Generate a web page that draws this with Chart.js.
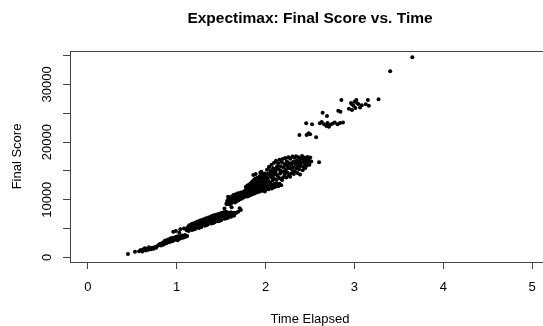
<!DOCTYPE html>
<html>
<head>
<meta charset="utf-8">
<script src="https://cdn.jsdelivr.net/npm/chart.js@4.4.1/dist/chart.umd.min.js"></script>
<style>
	html, body { margin: 0; padding: 0; background: #fff; overflow: hidden; }
	#wrap { width: 560px; height: 326px; }
</style>
</head>
<body>
<div id="wrap"><canvas id="ChartExpectimax" width="560" height="326"></canvas></div>
<script>
// --------------
// DATA
// --------------
const chartTitle = "Expectimax: Final Score vs. Time";
const xTitle = "Time Elapsed";
const yTitle = "Final Score";

const xTicks = [0, 1, 2, 3, 4, 5];
const yTicks = [0, 5000, 10000, 15000, 20000, 25000, 30000, 35000];
const yTickLabels = [0, 10000, 20000, 30000];

// [time elapsed, final score]
const gamesLow = [
	[0.452, 580], [0.531, 970], [0.577, 1080], [0.596, 1260], [0.614, 1030], [0.628, 1390], [0.641, 1590],
	[0.652, 1190], [0.663, 1480], [0.679, 1320], [0.688, 1740], [0.701, 1570], [0.712, 1410], [0.727, 1690],
	[0.741, 1520], [0.757, 1810], [0.768, 1660],
];

const games256 = [
	[0.781, 1930], [0.796, 2140], [0.811, 2320], [0.823, 2050], [0.837, 2480], [0.848, 2210], [0.859, 2760],
	[0.866, 2360], [0.874, 2620], [0.883, 2450], [0.891, 2870], [0.899, 2570], [0.907, 2760], [0.915, 3020],
	[0.922, 2660], [0.929, 3280], [0.936, 2880], [0.944, 3110], [0.951, 2790], [0.958, 3230], [0.965, 2970],
	[0.973, 3390], [0.981, 3060], [0.988, 3520], [0.995, 3170], [1.003, 3430], [1.011, 2990], [1.018, 3310],
	[1.026, 3590], [1.034, 3240], [1.041, 3480], [1.049, 3660], [1.057, 3370], [1.066, 3570], [1.078, 3460],
	[1.089, 3690], [1.103, 3560], [1.118, 3720], [0.903, 3120], [0.947, 3380], [1.013, 3650], [1.062, 3790],
	[0.872, 2940], [1.095, 3880], [0.962, 4440], [0.991, 4570], [1.029, 4270], [1.041, 4860], [1.082, 5030],
];

const games512 = [
	[1.112, 4720], [1.118, 5090], [1.124, 4850], [1.131, 5360], [1.137, 4990], [1.143, 5580], [1.149, 5180],
	[1.155, 4960], [1.162, 5470], [1.168, 5790], [1.174, 5110], [1.181, 5620], [1.187, 5300], [1.193, 5940],
	[1.199, 5250], [1.206, 5710], [1.212, 5460], [1.218, 6080], [1.225, 5390], [1.231, 5860], [1.237, 6230],
	[1.244, 5560], [1.250, 6010], [1.256, 5720], [1.263, 6380], [1.269, 5640], [1.275, 6140], [1.282, 5890],
	[1.288, 6520], [1.294, 5810], [1.301, 6290], [1.307, 6030], [1.313, 6660], [1.320, 5960], [1.326, 6410],
	[1.332, 6780], [1.339, 6140], [1.345, 6590], [1.351, 6320], [1.358, 6920], [1.364, 6250], [1.370, 6730],
	[1.377, 6480], [1.383, 7060], [1.389, 6410], [1.396, 6870], [1.402, 7210], [1.408, 6590], [1.415, 7010],
	[1.421, 6760], [1.427, 7340], [1.434, 6680], [1.440, 7150], [1.446, 6910], [1.453, 7460], [1.459, 6840],
	[1.465, 7280], [1.472, 7050], [1.478, 7590], [1.484, 6990], [1.491, 7420], [1.497, 7190], [1.503, 7720],
	[1.510, 7140], [1.516, 7560], [1.522, 7330], [1.529, 7830], [1.535, 7280], [1.541, 7680], [1.548, 7470],
	[1.554, 7930], [1.561, 7410], [1.568, 7800], [1.575, 7590], [1.583, 7360], [1.591, 7720], [1.599, 7510],
	[1.608, 7850], [1.618, 7640], [1.629, 7460], [1.641, 7760], [1.654, 7590], [1.671, 7740], [1.692, 7920],
	[1.135, 4560], [1.172, 4760], [1.208, 4930], [1.246, 5110], [1.279, 5280], [1.318, 5500], [1.352, 5690],
	[1.391, 5870], [1.428, 6090], [1.466, 6280], [1.503, 6470], [1.541, 6690], [1.578, 6880], [1.612, 7050],
	[1.645, 7210], [1.189, 4850], [1.262, 5200], [1.335, 5620], [1.410, 5980], [1.485, 6370], [1.560, 6780],
	[1.538, 8500], [1.561, 9370], [1.582, 9550], [1.579, 10520], [1.618, 8680], [1.709, 8510], [1.722, 8210],
];

const games1024 = [
	[1.563, 9220], [1.569, 9840], [1.576, 9450], [1.583, 10160], [1.589, 9620], [1.595, 9180], [1.602, 10380],
	[1.608, 9790], [1.614, 9410], [1.621, 10550], [1.627, 10020], [1.633, 9600], [1.639, 10810], [1.646, 9870],
	[1.652, 10340], [1.658, 9530], [1.664, 10970], [1.671, 10150], [1.677, 9760], [1.683, 10640], [1.689, 11120],
	[1.696, 9920], [1.702, 10430], [1.708, 10860], [1.715, 10110], [1.721, 11270], [1.727, 10580], [1.734, 10230],
	[1.740, 11040], [1.746, 10720], [1.753, 11390], [1.759, 10410], [1.765, 10950], [1.772, 10610], [1.778, 11230],
	[1.785, 10800], [1.791, 11460], [1.797, 10540], [1.804, 11080], [1.810, 10870], [1.817, 11570], [1.823, 10730],
	[1.830, 11320], [1.836, 11010], [1.843, 11650], [1.849, 10930], [1.856, 11460], [1.862, 11190], [1.869, 11760],
	[1.875, 11080], [1.882, 11590], [1.888, 11330], [1.895, 11880], [1.901, 11240], [1.908, 11710], [1.914, 11480],
	[1.921, 12020], [1.927, 11370], [1.934, 11830], [1.940, 11610], [1.947, 12130], [1.953, 11520], [1.960, 11960],
	[1.966, 11730], [1.973, 12240], [1.979, 11650], [1.986, 12080], [1.992, 11420], [1.999, 12310], [2.005, 11870],
	[2.012, 12190], [2.019, 11990], [2.026, 12420], [2.033, 11820], [2.040, 12300], [2.047, 12110], [2.054, 12530],
	[2.061, 12240], [2.068, 11960], [2.075, 12620], [2.082, 12370], [2.089, 12130], [2.097, 12720], [2.104, 12480],
	[2.112, 12260], [2.121, 12800], [2.131, 12590], [2.143, 12340], [2.157, 12760], [2.176, 12520],
];

const games2048 = [
	[1.771, 11620], [1.778, 12240], [1.784, 11850], [1.791, 11530], [1.797, 12460], [1.803, 12090], [1.812, 11760],
	[1.818, 12670], [1.824, 12310], [1.831, 11980], [1.838, 12890], [1.844, 12450], [1.851, 13170], [1.857, 12080],
	[1.863, 12690], [1.869, 13420], [1.874, 12360], [1.881, 12950], [1.886, 13680], [1.892, 12210], [1.898, 13140],
	[1.904, 12610], [1.911, 13820], [1.917, 12940], [1.922, 12420], [1.929, 13460], [1.935, 14060], [1.941, 12730],
	[1.948, 13290], [1.954, 13840], [1.959, 12560], [1.966, 14320], [1.972, 13070], [1.979, 13620], [1.985, 12850],
	[1.991, 14570], [1.997, 13380], [2.004, 14010], [2.009, 12930], [2.016, 15180], [2.022, 13670], [2.028, 14560],
	[2.033, 13140], [2.039, 15620], [2.045, 14230], [2.051, 12980], [2.056, 15040], [2.062, 13880], [2.068, 16090],
	[2.073, 14710], [2.079, 13350], [2.085, 15470], [2.091, 14310], [2.096, 16420], [2.102, 13610], [2.108, 15120],
	[2.113, 14690], [2.119, 16780], [2.124, 13420], [2.131, 15830], [2.136, 14120], [2.142, 16350], [2.148, 15260],
	[2.153, 13780], [2.159, 16930], [2.164, 14560], [2.171, 15790], [2.176, 13590], [2.182, 16540], [2.188, 14910],
	[2.193, 17080], [2.199, 13920], [2.205, 15610], [2.211, 16180], [2.216, 14380], [2.222, 17240], [2.228, 15150],
	[2.234, 13860], [2.239, 16660], [2.245, 14740], [2.251, 15930], [2.257, 17360], [2.262, 14210], [2.268, 16320],
	[2.274, 15470], [2.279, 17110], [2.285, 14560], [2.291, 16010], [2.296, 15280], [2.302, 17480], [2.308, 14810],
	[2.313, 16580], [2.319, 15620], [2.325, 17290], [2.331, 14950], [2.336, 16210], [2.342, 17560], [2.348, 15460],
	[2.353, 16870], [2.359, 14620], [2.365, 16090], [2.371, 17380], [2.377, 15270], [2.382, 16640], [2.388, 14380],
	[2.394, 17150], [2.399, 15840], [2.405, 16480], [2.411, 17590], [2.417, 15120], [2.423, 16890], [2.429, 15680],
	[2.435, 17340], [2.441, 16230], [2.447, 15490], [2.453, 17060], [2.459, 16570], [2.465, 15920], [2.472, 17420],
	[2.478, 16310], [2.486, 16880], [2.493, 16060], [2.503, 17310], [2.514, 16640], [2.602, 16490],
	[1.862, 14290], [1.889, 14460], [1.941, 14690], [1.953, 14860], [2.041, 15730],
	[2.026, 13390], [2.074, 13980], [2.116, 14420], [2.166, 15130], [2.207, 14820], [2.253, 15520], [2.297, 16320],
	[2.344, 16420], [2.391, 16020], [2.186, 13410], [2.233, 16040], [2.276, 13980], [2.318, 14480], [2.362, 15580],
	[2.438, 16850], [2.127, 15610], [2.083, 14820], [2.052, 14450], [1.995, 14060], [1.943, 13230],
];

const games4096 = [
	[2.381, 21230], [2.462, 21230], [2.483, 21530], [2.501, 21350], [2.569, 20830],
	[2.457, 23260], [2.523, 23090], [2.611, 23260], [2.632, 23500], [2.658, 23100], [2.684, 22800], [2.697, 23300],
	[2.713, 22670], [2.726, 23000], [2.752, 23200], [2.778, 23400], [2.809, 23100], [2.838, 23300], [2.871, 23400],
	[2.642, 25100], [2.691, 24530], [2.818, 25450], [2.842, 25280], [2.853, 27300], [2.938, 25800], [2.972, 25570],
	[2.968, 26610], [3.002, 27010], [2.961, 26800], [3.021, 27300], [2.989, 26300], [3.011, 25900], [3.033, 26730],
	[3.044, 26600], [3.063, 26000], [3.082, 26400], [3.128, 26560], [3.151, 27300], [3.162, 26320], [3.271, 27430],
	[3.402, 32290], [3.651, 34720],
];

const allGames = [...gamesLow, ...games256, ...games512, ...games1024, ...games2048, ...games4096];

// --------------
// CONFIG CHART
// --------------
const FONT = "'Liberation Sans', Arial, sans-serif";
const AXIS_COLOR = "#444";

// box + R style labels
const rStylePlugin = {
	id: "rStyle",
	afterDraw(chart) {
		const { ctx, chartArea, scales } = chart;
		const midX = (chartArea.left + chartArea.right) / 2;
		const midY = (chartArea.top + chartArea.bottom) / 2;
		ctx.save();

		ctx.strokeStyle = AXIS_COLOR;
		ctx.lineWidth = 1;
		ctx.strokeRect(
			Math.round(chartArea.left) + 0.5,
			Math.round(chartArea.top) + 0.5,
			Math.round(chartArea.right - chartArea.left),
			Math.round(chartArea.bottom - chartArea.top)
		);

		ctx.fillStyle = "#000";
		ctx.textAlign = "center";
		ctx.textBaseline = "middle";

		ctx.font = "bold 15.5px " + FONT;
		ctx.fillText(chartTitle, midX, 19);

		ctx.font = "13px " + FONT;
		xTicks.forEach((v) => {
			ctx.fillText(String(v), scales.x.getPixelForValue(v), 287);
		});
		ctx.fillText(xTitle, midX, 319);

		yTickLabels.forEach((v) => {
			ctx.save();
			ctx.translate(47.5, scales.y.getPixelForValue(v));
			ctx.rotate(-Math.PI / 2);
			ctx.fillText(String(v), 0, 0);
			ctx.restore();
		});

		ctx.translate(17.5, midY);
		ctx.rotate(-Math.PI / 2);
		ctx.fillText(yTitle, 0, 0);

		ctx.restore();
	},
};

const dataExpectimax = {
	datasets: [
		{
			label: chartTitle,
			data: allGames.map((g) => ({ x: g[0], y: g[1] })),
			backgroundColor: "#000",
			borderColor: "#000",
			pointRadius: 2,
			pointBorderWidth: 0,
			pointHoverRadius: 2,
		},
	],
};

const configExpectimax = {
	type: "scatter",
	data: dataExpectimax,
	options: {
		responsive: false,
		animation: false,
		devicePixelRatio: 1,
		layout: { padding: { top: 51, right: 10, left: 0, bottom: 0 } },
		plugins: {
			legend: { display: false },
			tooltip: { enabled: false },
		},
		scales: {
			x: {
				type: "linear",
				min: -0.2,
				max: 5.2,
				afterBuildTicks: (scale) => {
					scale.ticks = xTicks.map((v) => ({ value: v }));
				},
				afterFit: (scale) => {
					scale.height = 64;
				},
				ticks: { display: false },
				border: { display: false },
				grid: {
					drawOnChartArea: false,
					drawTicks: true,
					tickLength: 7,
					color: AXIS_COLOR,
					lineWidth: 1,
				},
			},
			y: {
				type: "linear",
				min: -800,
				max: 35800,
				afterBuildTicks: (scale) => {
					scale.ticks = yTicks.map((v) => ({ value: v }));
				},
				afterFit: (scale) => {
					scale.width = 70;
				},
				ticks: { display: false },
				border: { display: false },
				grid: {
					drawOnChartArea: false,
					drawTicks: true,
					tickLength: 7,
					color: AXIS_COLOR,
					lineWidth: 1,
				},
			},
		},
	},
	plugins: [rStylePlugin],
};

const ChartExpectimax = new Chart(
	document.getElementById("ChartExpectimax"),
	configExpectimax
);
</script>
</body>
</html>
